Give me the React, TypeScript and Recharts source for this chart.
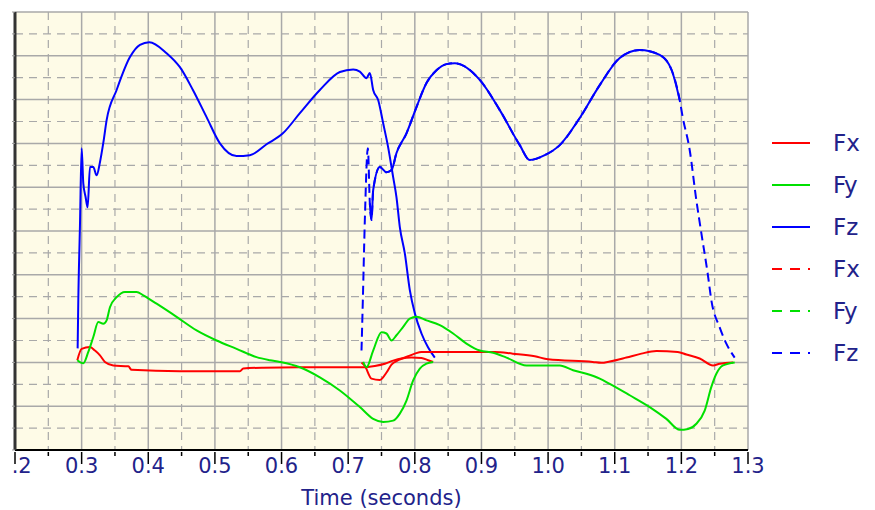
import { LineChart, Line, XAxis, YAxis, CartesianGrid, Legend, Label } from 'recharts';

const RED = '#ff0000';
const GREEN = '#00e000';
const BLUE = '#0000ff';
const NAVY = '#22228a';
const FONT = 'DejaVu Sans';

// axis ticks / grid values
const xTicks = [0.2, 0.25, 0.3, 0.35, 0.4, 0.45, 0.5, 0.55, 0.6, 0.65, 0.7, 0.75, 0.8, 0.85, 0.9, 0.95, 1.0, 1.05, 1.1, 1.15, 1.2, 1.25, 1.3];
const xMajor = [0.2, 0.3, 0.4, 0.5, 0.6, 0.7, 0.8, 0.9, 1.0, 1.1, 1.2, 1.3];
const xMinor = [0.25, 0.35, 0.45, 0.55, 0.65, 0.75, 0.85, 0.95, 1.05, 1.15, 1.25];
const yMajor = [-2, -1, 0, 1, 2, 3, 4, 5, 6, 7, 8];
const yMinor = [-1.5, -0.5, 0.5, 1.5, 2.5, 3.5, 4.5, 5.5, 6.5, 7.5];
const yTicks = [-2, -1.5, -1, -0.5, 0, 0.5, 1, 1.5, 2, 2.5, 3, 3.5, 4, 4.5, 5, 5.5, 6, 6.5, 7, 7.5, 8];

// trial 1 (solid lines)
const fx1Time = [0.2935, 0.30, 0.3125, 0.32, 0.3275, 0.335, 0.3475, 0.37, 0.375, 0.4475, 0.5375, 0.5425, 0.5725, 0.627, 0.7225, 0.74, 0.755, 0.7675, 0.78, 0.795, 0.81, 0.82, 0.8275];
const fx1Force = [0.05, 0.31, 0.35, 0.27, 0.16, 0.01, -0.07, -0.09, -0.17, -0.2, -0.2, -0.14, -0.12, -0.11, -0.11, -0.08, -0.03, 0.04, 0.09, 0.11, 0.1, 0.05, 0.01];

const fy1Time = [0.2935, 0.3025, 0.31, 0.3175, 0.325, 0.3325, 0.3375, 0.3425, 0.3525, 0.365, 0.3825, 0.3925, 0.4125, 0.4425, 0.4725, 0.5025, 0.5325, 0.5625, 0.5825, 0.5975, 0.6275, 0.6575, 0.6875, 0.7175, 0.7375, 0.7525, 0.7675, 0.7775, 0.7875, 0.7975, 0.8075, 0.8175, 0.8275];
const fy1Force = [0.05, -0.02, 0.24, 0.58, 0.92, 0.88, 0.96, 1.26, 1.49, 1.61, 1.61, 1.53, 1.34, 1.04, 0.73, 0.5, 0.31, 0.12, 0.05, 0.01, -0.11, -0.34, -0.64, -1.02, -1.29, -1.36, -1.33, -1.17, -0.87, -0.41, -0.14, -0.03, 0.01];

const fz1Time = [0.294, 0.295, 0.2975, 0.300, 0.3025, 0.306, 0.309, 0.3125, 0.3175, 0.3225, 0.3275, 0.3325, 0.3375, 0.3525, 0.3725, 0.3875, 0.4015, 0.4275, 0.4475, 0.467, 0.4875, 0.5075, 0.5325, 0.5525, 0.5775, 0.602, 0.6275, 0.6575, 0.6875, 0.7075, 0.7175, 0.7275, 0.7325, 0.7375, 0.745, 0.7525, 0.76, 0.7675, 0.7725, 0.7775, 0.785, 0.7925, 0.80, 0.81, 0.82, 0.83];
const fz1Force = [0.32, 1.42, 3.13, 4.89, 4.09, 3.77, 3.54, 4.46, 4.46, 4.27, 4.57, 5.01, 5.53, 6.22, 6.97, 7.25, 7.31, 7.06, 6.74, 6.22, 5.6, 5.0, 4.71, 4.73, 4.98, 5.23, 5.69, 6.22, 6.63, 6.69, 6.64, 6.49, 6.61, 6.22, 5.99, 5.46, 4.91, 4.23, 3.77, 3.09, 2.49, 1.65, 1.12, 0.66, 0.34, 0.11];

// trial 2 (dashed lines)
const fx2Time = [0.72, 0.725, 0.735, 0.7475, 0.7575, 0.765, 0.775, 0.79, 0.80, 0.81, 0.8375, 0.92, 0.947, 0.98, 1.0, 1.067, 1.08, 1.0925, 1.1175, 1.14, 1.1625, 1.1945, 1.2075, 1.2275, 1.2475, 1.2575, 1.2775];
const fx2Force = [0.0, -0.08, -0.37, -0.4, -0.23, -0.05, 0.05, 0.14, 0.2, 0.24, 0.24, 0.24, 0.2, 0.14, 0.07, 0.01, -0.01, 0.02, 0.11, 0.2, 0.26, 0.24, 0.18, 0.09, -0.07, -0.03, 0.0];

const fy2Time = [0.7225, 0.7275, 0.7375, 0.75, 0.7575, 0.765, 0.7725, 0.7825, 0.7925, 0.8025, 0.8175, 0.8375, 0.8575, 0.8775, 0.8975, 0.9175, 0.9375, 0.9675, 1.0175, 1.0375, 1.0575, 1.0775, 1.0925, 1.1225, 1.1525, 1.1775, 1.1975, 1.21, 1.2225, 1.235, 1.245, 1.2525, 1.2625, 1.28];
const fy2Force = [0.01, -0.11, 0.27, 0.69, 0.66, 0.5, 0.62, 0.81, 1.0, 1.04, 0.96, 0.85, 0.66, 0.43, 0.27, 0.22, 0.11, -0.07, -0.07, -0.18, -0.26, -0.37, -0.49, -0.75, -1.02, -1.29, -1.54, -1.52, -1.4, -1.1, -0.56, -0.26, -0.07, 0.0];

const fz2Time = [0.72, 0.722, 0.725, 0.7295, 0.7325, 0.735, 0.7375, 0.7475, 0.7575, 0.765, 0.7725, 0.7875, 0.8025, 0.8175, 0.8325, 0.8475, 0.86, 0.8975, 0.9275, 0.9575, 0.9725, 0.995, 1.0175, 1.0475, 1.0775, 1.1075, 1.1375, 1.1675, 1.1855, 1.1975, 1.202, 1.2125, 1.2225, 1.23, 1.2395, 1.245, 1.2575, 1.2675, 1.28];
const fz2Force = [0.27, 1.42, 3.25, 4.89, 3.63, 3.25, 3.93, 4.46, 4.34, 4.39, 4.78, 5.23, 5.83, 6.38, 6.67, 6.81, 6.83, 6.45, 5.76, 4.96, 4.62, 4.73, 4.96, 5.58, 6.33, 6.95, 7.13, 7.02, 6.67, 5.99, 5.6, 4.85, 3.7, 2.95, 2.03, 1.42, 0.8, 0.43, 0.11];
// densely sampled stretch of Fz (trial 2) where the dash pattern looks solid
const fz2DenseFrom = 0.7325;
const fz2DenseTo = 1.1975;

const toPoints = (time: number[], force: number[]) => time.map((t, i) => ({ t, v: force[i] }));

const fx1 = toPoints(fx1Time, fx1Force);
const fy1 = toPoints(fy1Time, fy1Force);
const fz1 = toPoints(fz1Time, fz1Force);
const fx2 = toPoints(fx2Time, fx2Force);
const fy2 = toPoints(fy2Time, fy2Force);
const fz2 = toPoints(fz2Time, fz2Force);
const fz2Dense = fz2.filter((p) => p.t >= fz2DenseFrom && p.t <= fz2DenseTo);

const legendItems = [
  { name: 'Fx', color: RED, dash: undefined },
  { name: 'Fy', color: GREEN, dash: undefined },
  { name: 'Fz', color: BLUE, dash: undefined },
  { name: 'Fx', color: RED, dash: '10 8' },
  { name: 'Fy', color: GREEN, dash: '10 8' },
  { name: 'Fz', color: BLUE, dash: '10 8' },
];

const LegendBox = () => (
  <div>
    {legendItems.map((item, i) => (
      <div key={i} style={{ display: 'flex', alignItems: 'center', height: 42 }}>
        <svg width={40} height={6}>
          <line x1={0} y1={3} x2={38} y2={3} stroke={item.color} strokeWidth={2} strokeDasharray={item.dash} />
        </svg>
        <span style={{ marginLeft: 21, color: NAVY, fontSize: 23, fontFamily: FONT }}>{item.name}</span>
      </div>
    ))}
  </div>
);

const TimeTick = (props: any) => {
  const { x, y, payload } = props;
  const value = payload.value;
  const major = xMajor.includes(value);
  const first = value === xTicks[0];
  return (
    <g>
      {first && (
        <clipPath id="firstTickClip">
          <rect x={x - 3} y={y} width={40} height={40} />
        </clipPath>
      )}
      <line x1={x} y1={y} x2={x} y2={y + (major ? 12 : 4)} stroke="#000" strokeWidth={1.5} />
      {major && (
        <text
          x={x}
          y={y + 21}
          textAnchor="middle"
          fill={NAVY}
          fontSize={21}
          fontFamily={FONT}
          clipPath={first ? 'url(#firstTickClip)' : undefined}
        >
          {value.toFixed(1)}
        </text>
      )}
    </g>
  );
};

// the force axis has tick marks but no labels
const NoLabel = () => <g />;

const lineProps = { type: 'monotone' as const, dataKey: 'v', strokeWidth: 2, dot: false, isAnimationActive: false };

export default function App() {
  return (
    <div style={{ position: 'absolute', left: 0, top: 0 }}>
      <LineChart width={875} height={510} margin={{ top: 12, right: 127, bottom: 0, left: 0 }}>
        <CartesianGrid fill="#fefbe7" stroke="#a9a9a9" strokeWidth={1.5} horizontalValues={yMajor} verticalValues={xMajor} />
        <CartesianGrid stroke="#a9a9a9" strokeWidth={1.2} strokeDasharray="8 6" horizontalValues={yMinor} verticalValues={xMinor} />
        <XAxis
          dataKey="t"
          type="number"
          domain={[0.2, 1.3]}
          ticks={xTicks}
          interval={0}
          allowDataOverflow
          height={60}
          tickSize={0}
          tickLine={false}
          tick={<TimeTick />}
          axisLine={{ stroke: '#000', strokeWidth: 2 }}
        >
          <Label value="Time (seconds)" position="insideBottom" offset={5} fill={NAVY} fontSize={21} fontFamily={FONT} />
        </XAxis>
        <YAxis
          type="number"
          domain={[-2, 8]}
          ticks={yTicks}
          interval={0}
          width={15}
          tick={<NoLabel />}
          tickSize={3}
          tickLine={{ stroke: '#999' }}
          axisLine={{ stroke: '#333', strokeWidth: 3 }}
        />
        <Legend
          layout="vertical"
          align="center"
          verticalAlign="middle"
          content={() => <LegendBox />}
          wrapperStyle={{ left: 772, top: 122, width: 100 }}
        />
        <Line {...lineProps} data={fx1} name="Fx" stroke={RED} />
        <Line {...lineProps} data={fy1} name="Fy" stroke={GREEN} />
        <Line {...lineProps} data={fz1} name="Fz" stroke={BLUE} />
        <Line {...lineProps} data={fx2} name="Fx" stroke={RED} />
        <Line {...lineProps} data={fy2} name="Fy" stroke={GREEN} />
        <Line {...lineProps} data={fz2} name="Fz" stroke={BLUE} strokeDasharray="9 5" />
        <Line {...lineProps} data={fz2Dense} name="Fz" legendType="none" stroke={BLUE} />
      </LineChart>
    </div>
  );
}
